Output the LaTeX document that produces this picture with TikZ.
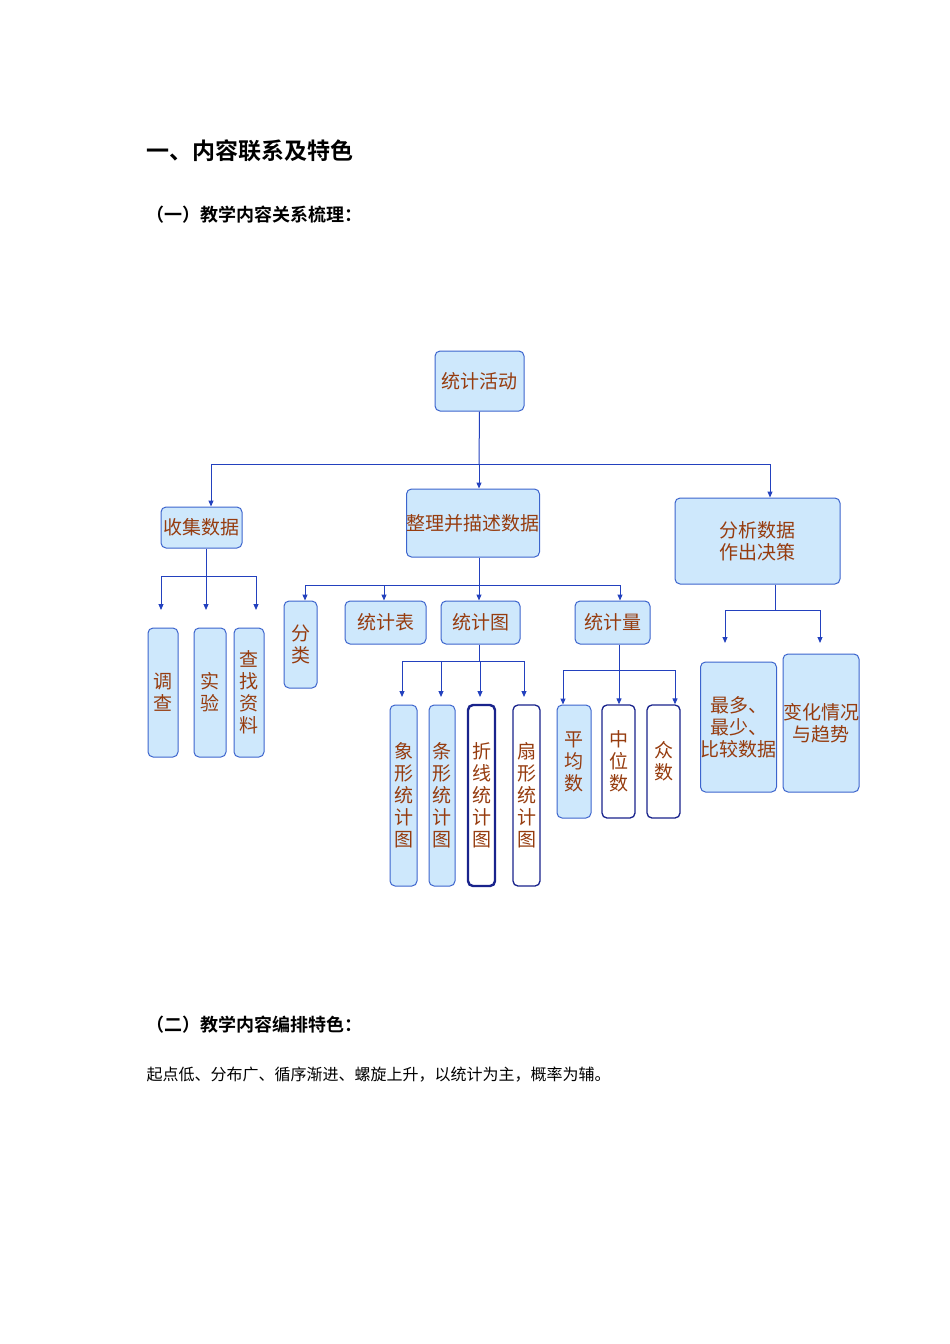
\documentclass[tikz,border=0pt]{standalone}
\usepackage{fontspec}
\setmainfont{Noto Sans CJK SC}[BoldFont={Noto Sans CJK SC Bold}]
\usetikzlibrary{arrows.meta}
\definecolor{bfill}{RGB}{206,232,252}
\definecolor{bdraw}{RGB}{60,100,205}
\definecolor{ddraw}{RGB}{25,35,140}
\definecolor{btxt}{RGB}{150,60,15}
\definecolor{lcol}{RGB}{35,65,190}
\tikzset{
 bx/.style={draw=bdraw,fill=bfill,rounded corners=5pt,line width=1pt,text=btxt,font=\fontsize{19}{22}\selectfont,align=center,inner sep=0pt},
 wbx/.style={bx,fill=white,draw=ddraw,line width=1.3pt},
 tbx/.style={wbx,line width=2.4pt},
 ln/.style={draw=lcol,line width=1pt},
 ar/.style={ln,-{Triangle[length=6pt,width=5pt]}},
}
\newcommand{\bxat}[6]{\node[#1,minimum width=#4-#2,minimum height=#5-#3] (#6) at ({(#2+#4)/2},{(#3+#5)/2})}
\begin{document}
\begin{tikzpicture}[x=1pt,y=-1pt]
\useasboundingbox (0,0) rectangle (950,1344);
\node[anchor=west,font=\bfseries\fontsize{23}{26}\selectfont] (t1) at (143,151) {一、内容联系及特色};
\node[anchor=west,font=\bfseries\fontsize{18}{22}\selectfont] (t2) at (143,215) {（一）教学内容关系梳理：};
\node[anchor=west,font=\bfseries\fontsize{18}{22}\selectfont] (t3) at (143,1025) {（二）教学内容编排特色：};
\node[anchor=west,font=\fontsize{16}{20}\selectfont] (t4) at (143,1075) {起点低、分布广、循序渐进、螺旋上升，以统计为主，概率为辅。};

\bxat{bx}{435}{351}{524}{411}{root} {统计活动};
\bxat{bx}{161}{507}{242}{548}{sj} {收集数据};
\bxat{bx}{412}{489}{534}{557}{zl} {整理并描述数据};
\bxat{bx}{675}{498}{840}{584}{fx} {分析数据\\作出决策};
\bxat{bx}{148}{628}{178}{757}{dc} {调\\查};
\bxat{bx}{194}{628}{226}{757}{sy} {实\\验};
\bxat{bx}{234}{628}{264}{757}{cz} {查\\找\\资\\料};
\bxat{bx}{284}{601}{317}{688}{fl} {分\\类};
\bxat{bx}{345}{601}{426}{644}{tjb} {统计表};
\bxat{bx}{441}{601}{520}{644}{tjt} {统计图};
\bxat{bx}{575}{601}{650}{644}{tjl} {统计量};
\bxat{bx}{390}{705}{417}{886}{xx} {象\\形\\统\\计\\图};
\bxat{bx}{429}{705}{455}{886}{tx} {条\\形\\统\\计\\图};
\bxat{tbx}{468}{705}{495}{886}{zx} {折\\线\\统\\计\\图};
\bxat{wbx}{513}{705}{540}{886}{sx} {扇\\形\\统\\计\\图};
\bxat{bx}{557}{705}{591}{818}{pj} {平\\均\\数};
\bxat{wbx}{602}{705}{635}{818}{zw} {中\\位\\数};
\bxat{wbx}{647}{705}{680}{818}{zs} {众\\数};
\bxat{bx}{703}{662}{774}{792}{zd} {最多、\\最少、\\比较数据};
\bxat{bx}{786}{654}{856}{792}{bh} {变化情况\\与趋势};

% root
\draw[ln] (root.south) -- (479,464) coordinate (h1);
\draw[ln] (211,464) -- (770,464);
\draw[ar] (211,464) -- (sj.north-|211,0);
\draw[ar] (h1) -- (zl.north-|479,0);
\draw[ar] (770,464) -- (fx.north-|770,0);
% sj
\draw[ln] (sj.south-|206,0) -- (206,576);
\draw[ln] (161,576) -- (256,576);
\draw[ar] (161,576) -- (161,610);
\draw[ar] (206,576) -- (206,610);
\draw[ar] (256,576) -- (256,610);
% zl
\draw[ln] (zl.south-|479,0) -- (479,585);
\draw[ln] (305,585) -- (620,585);
\draw[ar] (305,585) -- (fl.north-|305,0);
\draw[ar] (384,585) -- (tjb.north-|384,0);
\draw[ar] (479,585) -- (tjt.north-|479,0);
\draw[ar] (620,585) -- (tjl.north-|620,0);
% tjt
\draw[ln] (tjt.south-|479,0) -- (479,661);
\draw[ln] (402,661) -- (524,661);
\draw[ar] (402,661) -- (402,697);
\draw[ar] (441,661) -- (441,697);
\draw[ar] (480,661) -- (480,697);
\draw[ar] (524,661) -- (524,697);
% tjl
\draw[ln] (tjl.south-|619,0) -- (619,670);
\draw[ln] (563,670) -- (675,670);
\draw[ar] (563,670) -- (pj.north-|563,0);
\draw[ar] (619,670) -- (zw.north-|619,0);
\draw[ar] (675,670) -- (zs.north-|675,0);
% fx
\draw[ln] (fx.south-|775,0) -- (775,610);
\draw[ln] (725,610) -- (820,610);
\draw[ar] (725,610) -- (725,643);
\draw[ar] (820,610) -- (820,643);
\end{tikzpicture}
\end{document}
